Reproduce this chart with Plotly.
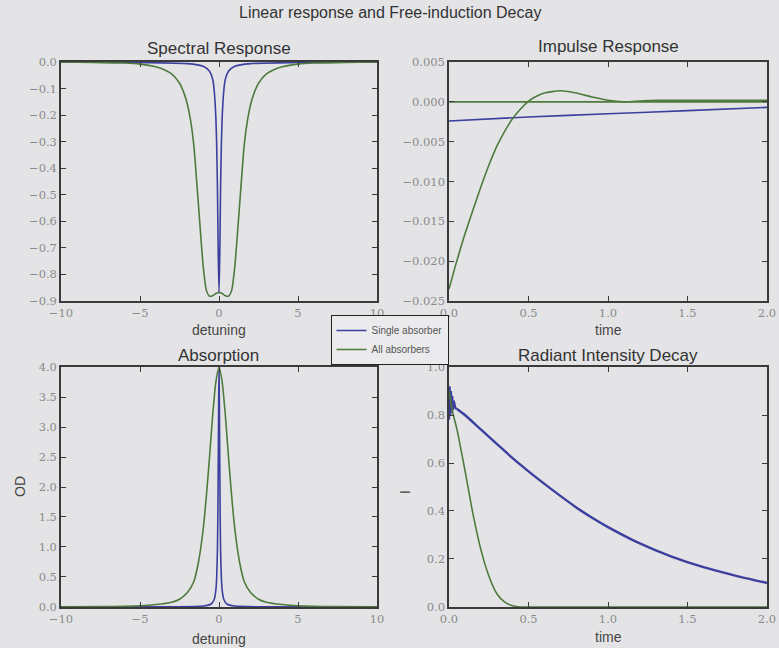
import plotly.graph_objects as go

# ---------------- data ----------------
spec_x = [-10, -8, -6, -5, -4, -3.5, -3, -2.5, -2.2, -2.0, -1.8, -1.6, -1.4, -1.2, -1.0, -0.8, -0.6, -0.4, -0.2, 0,
          0.2, 0.4, 0.6, 0.8, 1.0, 1.2, 1.4, 1.6, 1.8, 2.0, 2.2, 2.5, 3, 3.5, 4, 5, 6, 8, 10]
spec_all = [0.0, -0.002, -0.004, -0.008, -0.018, -0.028, -0.045, -0.08, -0.12, -0.16, -0.22, -0.31, -0.46, -0.62,
            -0.77, -0.86, -0.882, -0.88, -0.872, -0.868,
            -0.872, -0.88, -0.882, -0.86, -0.77, -0.62, -0.46, -0.31, -0.22, -0.16, -0.12, -0.08, -0.045, -0.028,
            -0.018, -0.008, -0.004, -0.002, 0.0]

spec_single_x = [-10, -5, -2, -1, -0.6, -0.4, -0.3, -0.2, -0.15, -0.1, -0.05, 0,
                 0.05, 0.1, 0.15, 0.2, 0.3, 0.4, 0.6, 1, 2, 5, 10]
spec_single = [0.0, -0.002, -0.006, -0.016, -0.035, -0.065, -0.11, -0.21, -0.31, -0.47, -0.72, -0.87,
               -0.72, -0.47, -0.31, -0.21, -0.11, -0.065, -0.035, -0.016, -0.006, -0.002, 0.0]

imp_t = [0, 0.05, 0.1, 0.15, 0.2, 0.25, 0.3, 0.35, 0.4, 0.45, 0.5, 0.55, 0.6, 0.7, 0.8, 0.9, 1.0, 1.1, 1.2,
         1.3, 1.5, 1.75, 2.0]
imp_all = [-0.0235, -0.0199, -0.0166, -0.0136, -0.0107, -0.0080, -0.0056, -0.0037, -0.0021, -0.0009,
           0.0001, 0.0007, 0.0011, 0.0014, 0.0011, 0.0006, 0.0002, 0.0000, 0.0001, 0.0002, 0.0002, 0.0002, 0.0002]
imp_all_flat_t = [0, 2.0]
imp_all_flat = [0.0, 0.0]
imp_single_t = [0, 0.5, 1.0, 1.5, 2.0]
imp_single = [-0.0024, -0.0019, -0.0015, -0.0011, -0.0007]

abs_x = [-10, -7, -5, -4, -3, -2.5, -2, -1.6, -1.3, -1.0, -0.8, -0.6, -0.4, -0.2, 0,
         0.2, 0.4, 0.6, 0.8, 1.0, 1.3, 1.6, 2, 2.5, 3, 4, 5, 7, 10]
abs_all = [0.003, 0.008, 0.02, 0.04, 0.08, 0.13, 0.24, 0.42, 0.75, 1.3, 1.85, 2.5, 3.2, 3.75, 4.0,
           3.75, 3.2, 2.5, 1.85, 1.3, 0.75, 0.42, 0.24, 0.13, 0.08, 0.04, 0.02, 0.008, 0.003]
abs_single_x = [-10, -3, -1, -0.5, -0.3, -0.2, -0.15, -0.1, -0.07, -0.04, -0.02, 0,
                0.02, 0.04, 0.07, 0.1, 0.15, 0.2, 0.3, 0.5, 1, 3, 10]
abs_single = [0.0, 0.003, 0.015, 0.05, 0.13, 0.28, 0.48, 0.95, 1.6, 2.7, 3.5, 3.95,
              3.5, 2.7, 1.6, 0.95, 0.48, 0.28, 0.13, 0.05, 0.015, 0.003, 0.0]

rad_t_all = [0, 0.02, 0.05, 0.1, 0.15, 0.2, 0.25, 0.3, 0.35, 0.4, 0.45, 0.5, 1.0, 1.5, 2.0]
rad_all = [0.9, 0.82, 0.74, 0.57, 0.39, 0.24, 0.13, 0.056, 0.02, 0.005, 0.0, 0.0, 0.0, 0.0, 0.0]
# early fast oscillation of the single-absorber intensity
rad_t_single_early = [0, 0.004, 0.008, 0.012, 0.016, 0.02, 0.025, 0.03, 0.04, 0.05]
rad_single_early = [0.78, 0.92, 0.80, 0.90, 0.81, 0.88, 0.82, 0.86, 0.83, 0.825]
# smooth decay afterwards
rad_t_single = [0.05, 0.1, 0.2, 0.3, 0.4, 0.5, 0.6, 0.7, 0.8, 0.9, 1.0, 1.2, 1.4, 1.6, 1.8, 2.0]
rad_single = [0.825, 0.80, 0.74, 0.68, 0.62, 0.565, 0.513, 0.463, 0.415, 0.372, 0.333, 0.265, 0.21, 0.166,
              0.131, 0.10]

series_names = ["Single absorber", "All absorbers"]
BLUE = "#3d3f9e"
GREEN = "#4f7a3d"
BG = "#e4e4e6"

fig = go.Figure()

def add(x, y, color, xa, ya, name=None, legend=False, shape="spline", width=1.6):
    fig.add_trace(go.Scatter(x=x, y=y, mode="lines", xaxis=xa, yaxis=ya,
                             line=dict(color=color, width=width, shape=shape, smoothing=0.6),
                             name=name, showlegend=legend, hoverinfo="skip"))

# Spectral Response
add(spec_single_x, spec_single, BLUE, "x", "y", series_names[0], True)
add(spec_x, spec_all, GREEN, "x", "y", series_names[1], True)
# Impulse Response
add(imp_single_t, imp_single, BLUE, "x2", "y2")
add(imp_all_flat_t, imp_all_flat, GREEN, "x2", "y2", shape="linear")
add(imp_t, imp_all, GREEN, "x2", "y2")
# Absorption
add(abs_single_x, abs_single, BLUE, "x3", "y3")
add(abs_x, abs_all, GREEN, "x3", "y3")
# Radiant Intensity Decay
add(rad_t_single_early, rad_single_early, BLUE, "x4", "y4", shape="linear", width=2.2)
add(rad_t_single, rad_single, BLUE, "x4", "y4", width=2.4)
add(rad_t_all, rad_all, GREEN, "x4", "y4")

tickfont = dict(family="DejaVu Serif", size=11.5, color="#8a8a8a")
common = dict(showline=True, linecolor="#3a3a3a", linewidth=1.5, mirror="ticks", ticks="inside",
              ticklen=5, tickcolor="#3a3a3a", showgrid=False, zeroline=False, tickfont=tickfont,
              automargin=False)

XL = [0.0783, 0.4840]
XR = [0.5764, 0.9846]
YT = [0.5355, 0.9043]
YB = [0.0633, 0.4336]

fig.update_layout(
    width=779, height=648,
    margin=dict(l=0, r=0, t=0, b=0, pad=0),
    paper_bgcolor=BG, plot_bgcolor=BG,
    xaxis=dict(domain=XL, anchor="y", range=[-10, 10], tickvals=[-10, -5, 0, 5, 10], **common),
    yaxis=dict(domain=YT, anchor="x", range=[-0.9, 0.0], dtick=0.1, tickformat=".1f", **common),
    xaxis2=dict(domain=XR, anchor="y2", range=[0, 2], dtick=0.5, tickformat=".1f", **common),
    yaxis2=dict(domain=YT, anchor="x2", range=[-0.025, 0.005], dtick=0.005, tickformat=".3f", **common),
    xaxis3=dict(domain=XL, anchor="y3", range=[-10, 10], tickvals=[-10, -5, 0, 5, 10], **common),
    yaxis3=dict(domain=YB, anchor="x3", range=[0, 4], dtick=0.5, tickformat=".1f", **common),
    xaxis4=dict(domain=XR, anchor="y4", range=[0, 2], dtick=0.5, tickformat=".1f", **common),
    yaxis4=dict(domain=YB, anchor="x4", range=[0, 1], dtick=0.2, tickformat=".1f", **common),
    legend=dict(x=0.5, y=1 - 315 / 648, xanchor="center", yanchor="top", bgcolor="#ebebed",
                bordercolor="#222", borderwidth=1, font=dict(family="Liberation Sans", size=10, color="#555"),
                tracegroupgap=0),
    font=dict(family="Liberation Sans"),
)

title_font = dict(family="Liberation Sans", size=17, color="#333")
label_font = dict(family="Liberation Sans", size=14, color="#444")

def ann(text, x, ypx, font, angle=0):
    fig.add_annotation(text=text, x=x, y=1 - ypx / 648, xref="paper", yref="paper",
                       showarrow=False, xanchor="center", yanchor="middle", font=font, textangle=angle)

ann("Linear response and Free-induction Decay", 0.5006, 13, dict(family="Liberation Sans", size=16, color="#333"))
ann("Spectral Response", 0.281, 48, title_font)
ann("Impulse Response", 0.7805, 47, title_font)
ann("Absorption", 0.281, 355, title_font)
ann("Radiant Intensity Decay", 0.7805, 355, title_font)
ann("detuning", 0.281, 330, label_font)
ann("time", 0.7805, 330, label_font)
ann("detuning", 0.281, 639, label_font)
ann("time", 0.7805, 637, label_font)
fig.add_annotation(text="OD", x=20 / 779, y=1 - 487 / 648, xref="paper", yref="paper", showarrow=False,
                   xanchor="center", yanchor="middle", font=label_font, textangle=-90)
fig.add_annotation(text="I", x=405 / 779, y=1 - 492 / 648, xref="paper", yref="paper", showarrow=False,
                   xanchor="center", yanchor="middle", font=label_font, textangle=-90)

fig.write_html("out.html", config={"displayModeBar": False},
               post_script="document.body.style.margin='0';document.body.style.overflow='hidden';"
                           "document.body.style.background='" + BG + "';")
